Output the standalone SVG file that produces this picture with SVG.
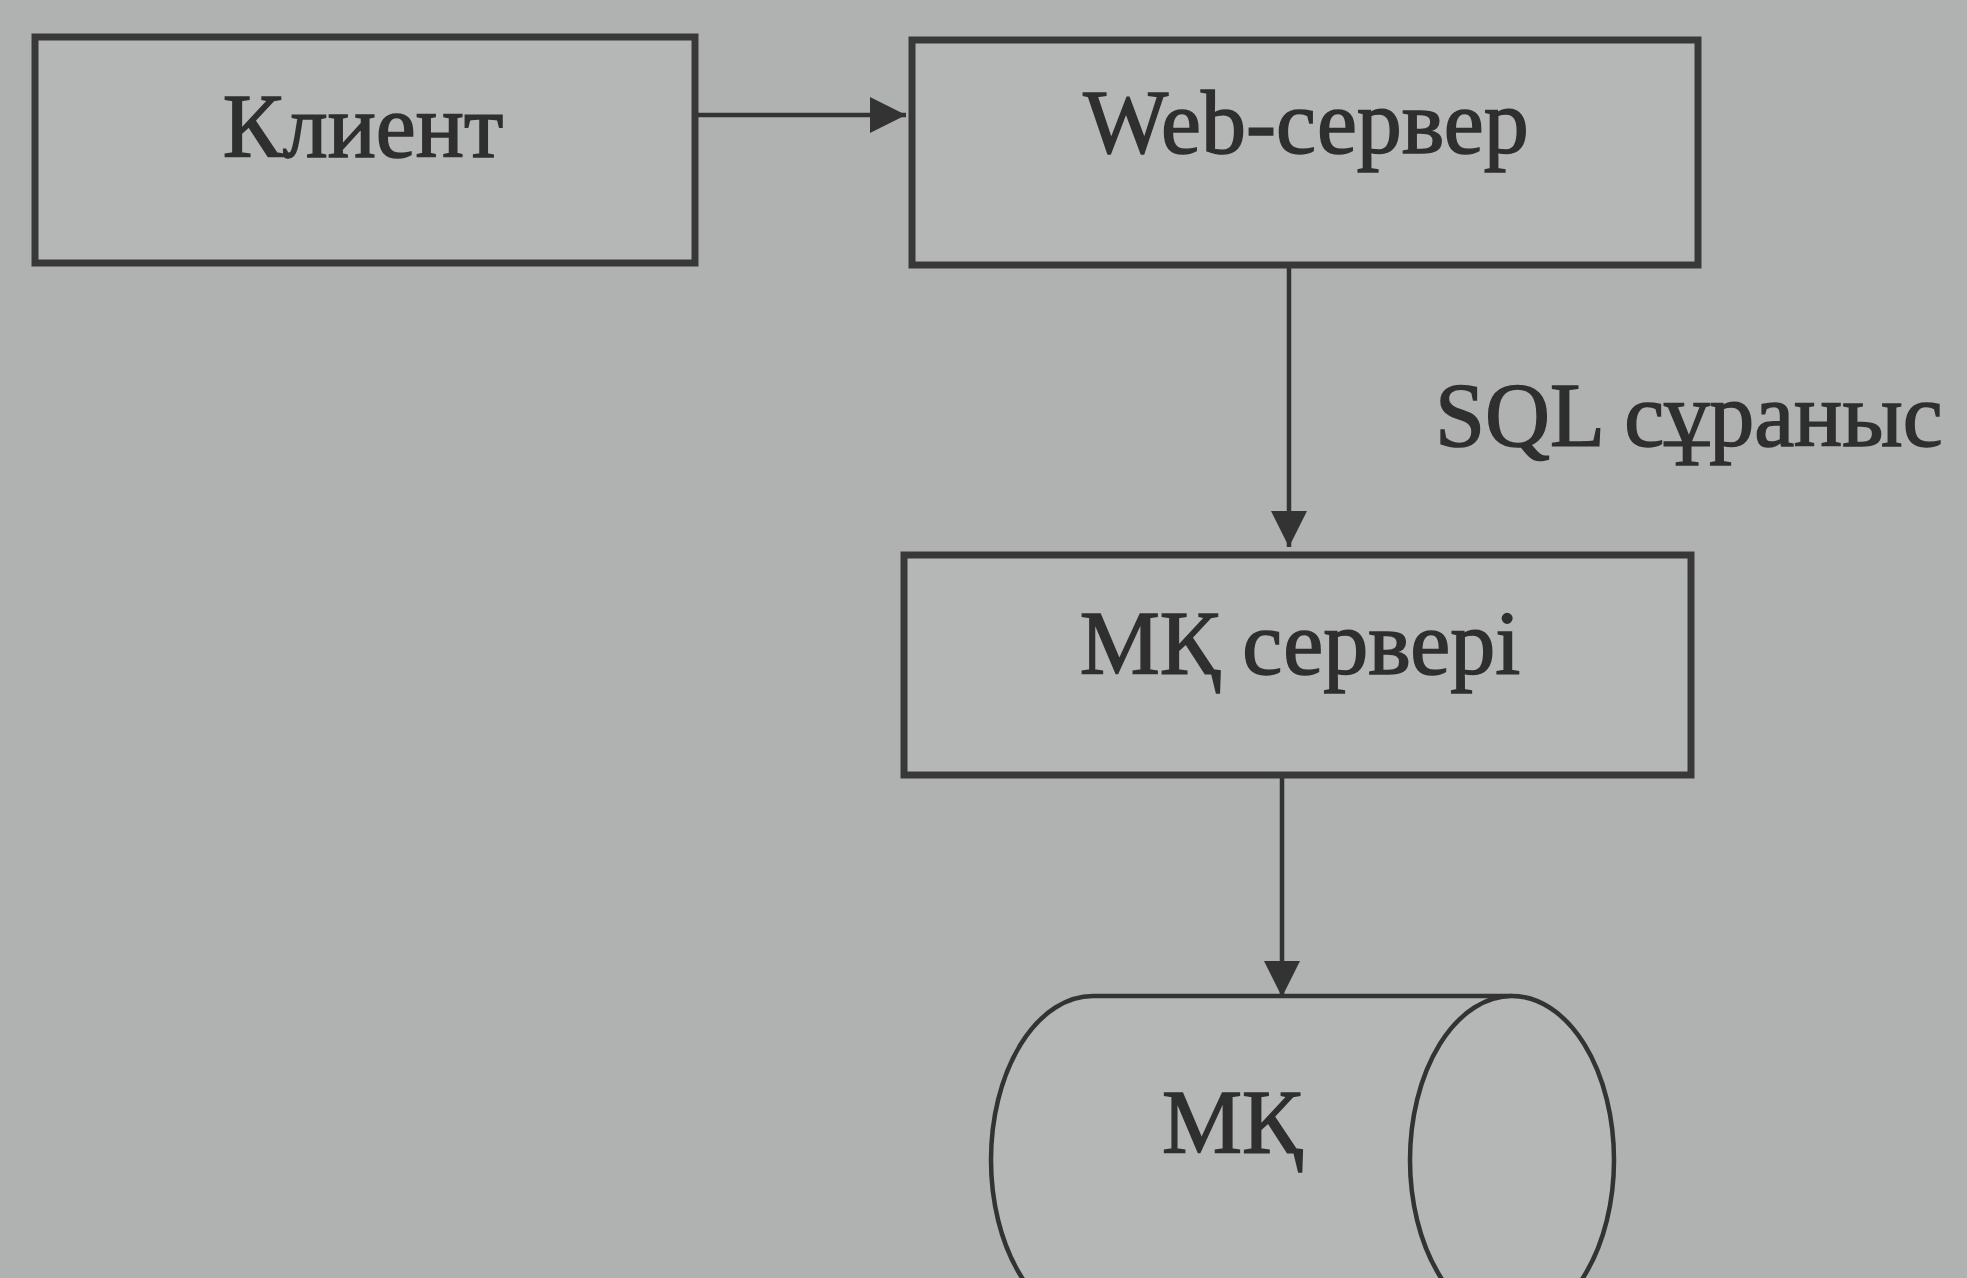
<svg xmlns="http://www.w3.org/2000/svg" width="1967" height="1278" viewBox="0 0 1967 1278">
<defs>
<style>
.box{fill:#b5b7b6;stroke:#383838;stroke-width:7}
.lbl{font-family:"Liberation Serif","Times New Roman",serif;font-size:90px;fill:#2f2f2f;stroke:#2f2f2f;stroke-width:1.5;text-anchor:middle}
.edge{stroke:#333;stroke-width:4.5;fill:none}
.cyl{fill:#b5b7b6;stroke:#333;stroke-width:4.5}
</style>
<marker id="ahb" viewBox="0 0 10 10" refX="10" refY="5" markerWidth="9" markerHeight="8" orient="auto">
<path d="M0,0 L10,5 L0,10 z" fill="#333"/>
</marker>
</defs>
<rect width="1967" height="1278" fill="#b0b2b1"/>
<g id="client">
<rect class="box" x="35" y="37" width="660" height="226"/>
<text class="lbl" x="363" y="157">Клиент</text>
</g>
<g id="web-server">
<rect class="box" x="912" y="40" width="786" height="225"/>
<text class="lbl" x="1306" y="153">Web-сервер</text>
</g>
<g id="db-server">
<rect class="box" x="904" y="555" width="787" height="220"/>
<text class="lbl" x="1300" y="674">МҚ сервері</text>
</g>
<g id="db">
<path class="cyl" d="M1512,996 L1093,996 A102,164 0 0 0 1093,1324 L1512,1324"/>
<ellipse class="cyl" cx="1512" cy="1160" rx="102" ry="164"/>
<text class="lbl" x="1232" y="1153">МҚ</text>
</g>
<g id="connectors">
<line class="edge" x1="698" y1="115" x2="906" y2="115" marker-end="url(#ahb)"/>
<line class="edge" x1="1289" y1="268" x2="1289" y2="547" marker-end="url(#ahb)"/>
<line class="edge" x1="1282" y1="778" x2="1282" y2="997" marker-end="url(#ahb)"/>
<text class="lbl" x="1435" y="446" style="text-anchor:start">SQL сұраныс</text>
</g>
</svg>
